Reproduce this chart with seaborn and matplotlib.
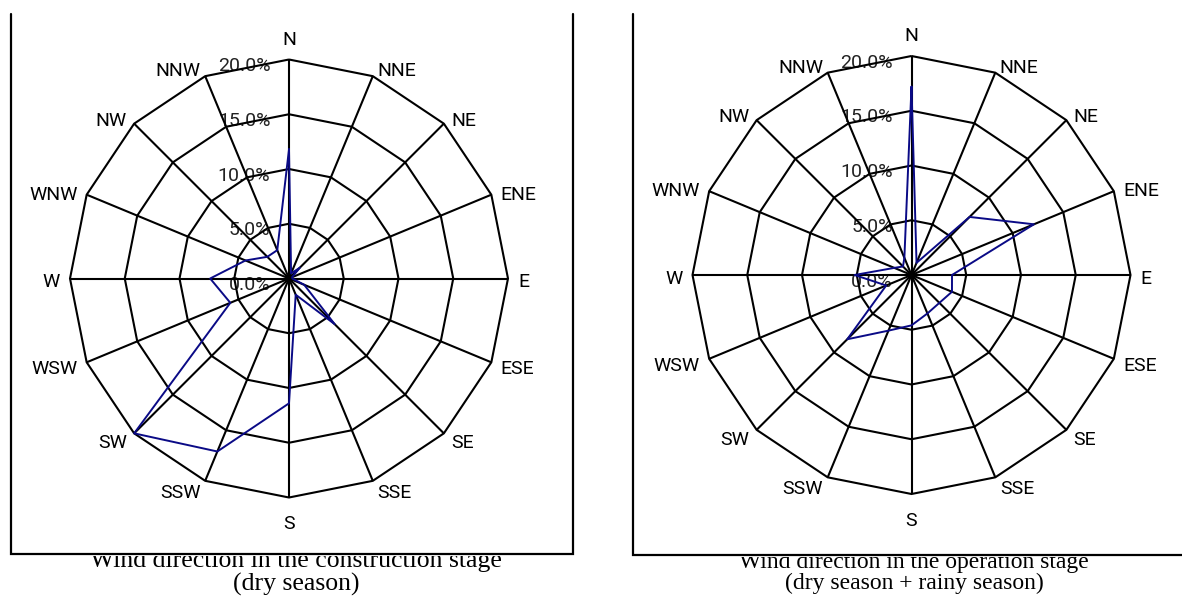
import numpy as np
import pandas as pd
import matplotlib
matplotlib.use("Agg")
import matplotlib.pyplot as plt
import seaborn as sns
from matplotlib.lines import Line2D
from matplotlib.patches import Rectangle

# Wind direction frequencies (%) by compass sector
directions = ["N", "NNE", "NE", "ENE", "E", "ESE", "SE", "SSE",
              "S", "SSW", "SW", "WSW", "W", "WNW", "NW", "NNW"]
construction_dry = [11.8, 0.5, 1.4, 0.3, 0.3, 1.5, 5.9, 1.6,
                    11.4, 17.1, 20.0, 5.8, 7.2, 4.3, 2.8, 2.8]
operation_all = [17.2, 1.2, 7.5, 12.1, 3.7, 4.0, 3.6, 3.8,
                 4.6, 5.5, 8.3, 2.5, 5.2, 1.7, 1.1, 1.7]

ring_values = [0, 5, 10, 15, 20]
ring_labels = ["0.0%", "5.0%", "10.0%", "15.0%", "20.0%"]

title_construction = ["Wind direction in the construction stage", "(dry season)"]
title_operation = ["Wind direction in the operation stage", "(dry season + rainy season)"]

sns.set_style("white")
plt.rcParams["font.family"] = ["Roboto", "DejaVu Sans"]

W, H = 1182, 596
fig = plt.figure(figsize=(W / 100, H / 100), dpi=100)
fig.patch.set_facecolor("white")

R_PX = 219.0          # pixel radius of the outer (20 %) ring
HALF = 290            # half size of each radar axes, pixels
PX = ring_values[-1] / R_PX   # data units per pixel
LINE_KW = dict(color="black", lw=1.5, solid_joinstyle="miter", solid_capstyle="butt")


def radar(cx, cy, values):
    ax = fig.add_axes([(cx - HALF) / W, (H - cy - HALF) / H, 2 * HALF / W, 2 * HALF / H])
    lim = HALF * PX
    ax.set_xlim(-lim, lim)
    ax.set_ylim(-lim, lim)
    ax.axis("off")
    ax.patch.set_alpha(0)

    n = len(directions)
    theta = np.deg2rad(np.arange(n) * 360.0 / n)
    s, c = np.sin(theta), np.cos(theta)
    rmax = ring_values[-1]

    # polygonal rings and spokes
    for r in ring_values[1:]:
        ax.plot(np.append(r * s, r * s[0]), np.append(r * c, r * c[0]), zorder=2, **LINE_KW)
    for si, ci in zip(s, c):
        ax.plot([0, rmax * si], [0, rmax * ci], zorder=2, **LINE_KW)

    # frequency polygon
    v = np.asarray(values, dtype=float)
    df = pd.DataFrame({
        "x": np.append(v * s, v[0] * s[0]),
        "y": np.append(v * c, v[0] * c[0]),
    })
    sns.lineplot(data=df, x="x", y="y", sort=False, estimator=None,
                 color="#0a0a86", lw=1.4, ax=ax, zorder=3)
    ax.set_xlabel("")
    ax.set_ylabel("")

    # ring value labels along the north axis
    for r, lab in zip(ring_values, ring_labels):
        ax.text(-18.6 * PX, r - 6.6 * PX, lab, ha="right", va="center",
                fontsize=14, color="#222222", zorder=1)

    # compass labels
    for name, si, ci in zip(directions, s, c):
        vx, vy = rmax * si, rmax * ci
        if abs(si) < 1e-6:
            dy = 19.9 if ci > 0 else -26.6
            ax.text(vx, vy + dy * PX, name, ha="center", va="center",
                    fontsize=14, color="black")
        else:
            gap = 9 * abs(si) + 1
            dx = gap if si > 0 else -gap
            dy = -2 + 9 * ci - 1.6
            ax.text(vx + dx * PX, vy + dy * PX, name,
                    ha="left" if si > 0 else "right", va="center",
                    fontsize=14, color="black")
    return ax


def frame(x0, x1, top, bottom):
    # white strip just above the bottom edge hides the top of the caption
    fig.add_artist(Rectangle((x0 / W, 1 - (bottom + 1.5) / H), (x1 - x0) / W, 14 / H,
                             transform=fig.transFigure, facecolor="white",
                             edgecolor="none", zorder=3.5))
    fig.add_artist(Line2D([x0 / W, x0 / W, x1 / W, x1 / W],
                          [1 - top / H, 1 - bottom / H, 1 - bottom / H, 1 - top / H],
                          transform=fig.transFigure, color="black", lw=1.6,
                          solid_joinstyle="miter", zorder=4))


def caption(lines, cx, baselines, size):
    for text, base in zip(lines, baselines):
        fig.text(cx / W, 1 - base / H, text, ha="center", va="baseline",
                 family=["Liberation Serif", "DejaVu Serif"], fontsize=size,
                 color="black", zorder=3)


radar(289, 278.5, construction_dry)
radar(911.5, 275, operation_all)

caption(title_construction, 296, [567.5, 591], 18.5)
caption(title_operation, 914, [568, 589.5], 17)

frame(10.6, 572.7, 14, 554)
frame(632.7, 1200, 14, 555)

fig.savefig("out.png", dpi=100, facecolor="white")
